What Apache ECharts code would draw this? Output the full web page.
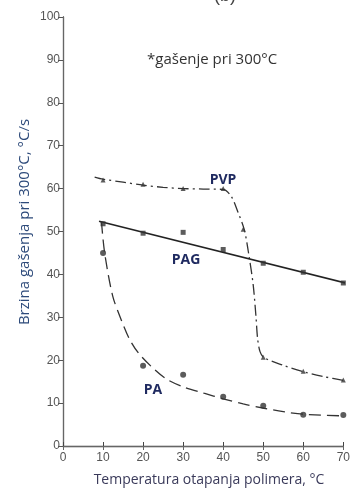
<!DOCTYPE html>
<html>
<head>
<meta charset="utf-8">
<script src="https://cdn.jsdelivr.net/npm/echarts@6/dist/echarts.min.js"></script>
<style>
  html, body { margin: 0; padding: 0; background: #fff; }
  #chart { width: 353px; height: 489px; }
</style>
</head>
<body>
<div id="chart"></div>
<script>
// values
const pvpCurve = [[7.9, 62.7], [10, 62.2], [15, 61.5], [20, 60.8], [25, 60.3], [30, 60], [35, 59.9], [40, 59.8],
  [42, 58.2], [43.7, 54.5], [45.3, 50.3], [46.5, 44], [47.5, 37.5], [48.2, 30], [48.6, 25], [49.2, 22], [50.2, 20.6],
  [55, 18.8], [60, 17.3], [65, 16.2], [70.5, 15.2]]
const pvpPoints = [[10, 62], [20, 61], [30, 60], [40, 60], [45, 50.5], [50, 20.7], [60, 17.4], [70, 15.4]]

const pagLine = [[9, 52.4], [70.5, 38]]
const pagPoints = [[10, 51.8], [20, 49.6], [30, 49.8], [40, 45.8], [50, 42.6], [60, 40.5], [70, 38]]

const paCurve = [[9.6, 52.3], [10.4, 45], [12.4, 35], [14.5, 29.5], [16.5, 25.1], [18.9, 21.6], [23, 17.7],
  [26.2, 15.4], [30.3, 13.7], [35.2, 12.3], [40, 11], [45, 9.8], [50.2, 8.8], [55, 8], [60.1, 7.4], [70.5, 7]]
const paPoints = [[10, 45], [20, 18.7], [30, 16.6], [40, 11.5], [50, 9.4], [60, 7.3], [70, 7.2]]

const ink = '#333'
const chart = echarts.init(document.getElementById('chart'))

const tickFont = { color: '#555', fontSize: 12, fontFamily: 'Liberation Sans' }
const axisLine = { show: true, lineStyle: { color: '#444', width: 1.3 } }

chart.setOption({
  animation: false,
  backgroundColor: '#fff',
  grid: { left: 63, right: 3, top: 17, bottom: 43 },
  xAxis: [
    {
      type: 'value', min: 0, max: 70, interval: 10, position: 'bottom',
      axisLine, axisTick: { inside: true, length: 4, lineStyle: { color: '#444' } },
      axisLabel: { ...tickFont, margin: 6 },
      splitLine: { show: false },
    },
    {
      type: 'value', min: 0, max: 70, interval: 10, position: 'top',
      axisLine: { show: true, lineStyle: { color: '#666', width: 1 } },
      axisTick: { inside: true, length: 4, lineStyle: { color: '#666' } },
      axisLabel: { show: false }, splitLine: { show: false },
    },
  ],
  yAxis: [
    {
      type: 'value', min: 0, max: 100, interval: 10, position: 'left',
      axisLine, axisTick: { inside: false, length: 4, lineStyle: { color: '#444' } },
      axisLabel: { ...tickFont, margin: 3 },
      splitLine: { show: false },
    },
    {
      type: 'value', min: 0, max: 100, interval: 10, position: 'right',
      axisLine: { show: true, lineStyle: { color: '#666', width: 1 } },
      axisTick: { inside: true, length: 5, lineStyle: { color: '#555' } },
      axisLabel: { show: false }, splitLine: { show: false },
    },
  ],
  series: [
    {
      name: 'PVP', type: 'line', data: pvpCurve, smooth: 0.3, showSymbol: false, symbol: 'none',
      lineStyle: { color: ink, width: 1.3, type: [11, 4, 2, 4] }, z: 2,
    },
    {
      type: 'scatter', data: pvpPoints, symbol: 'triangle', symbolSize: 5,
      itemStyle: { color: ink }, z: 3,
    },
    {
      name: 'PAG', type: 'line', data: pagLine, showSymbol: false, symbol: 'none',
      lineStyle: { color: '#222', width: 1.6 }, z: 2,
    },
    {
      type: 'scatter', data: pagPoints, symbol: 'rect', symbolSize: 5,
      itemStyle: { color: ink }, z: 3,
    },
    {
      name: 'PA', type: 'line', data: paCurve, smooth: 0.3, showSymbol: false, symbol: 'none',
      lineStyle: { color: ink, width: 1.3, type: [12, 6] }, z: 2,
    },
    {
      type: 'scatter', data: paPoints, symbol: 'circle', symbolSize: 6,
      itemStyle: { color: ink }, z: 3,
    },
  ],
  graphic: [
    {
      type: 'text', left: 214, top: -13,
      style: { text: '(b)', font: '18px "Liberation Sans"', fill: '#444' },
    },
    {
      type: 'text', x: 25, y: 222, rotation: Math.PI / 2,
      style: {
        text: 'Brzina gašenja pri 300°C, °C/s', font: '15px "Open Sans"', fill: '#2d4a7a',
        align: 'center', verticalAlign: 'middle',
      },
    },
    {
      type: 'text', x: 209, y: 480,
      style: {
        text: 'Temperatura otapanja polimera, °C', font: '14px "Open Sans"', fill: '#3a3a5a',
        align: 'center', verticalAlign: 'middle',
      },
    },
    {
      type: 'text', x: 147, y: 60,
      style: { text: '*gašenje pri 300°C', font: '15px "Open Sans"', fill: '#333', verticalAlign: 'middle' },
    },
    {
      type: 'text', x: 223, y: 180,
      style: { text: 'PVP', font: 'bold 14px "Open Sans"', fill: '#1f2a60', align: 'center', verticalAlign: 'middle' },
    },
    {
      type: 'text', x: 186, y: 260,
      style: { text: 'PAG', font: 'bold 14px "Open Sans"', fill: '#1f2a60', align: 'center', verticalAlign: 'middle' },
    },
    {
      type: 'text', x: 153, y: 390,
      style: { text: 'PA', font: 'bold 14px "Open Sans"', fill: '#1f2a60', align: 'center', verticalAlign: 'middle' },
    },
  ],
})
</script>
</body>
</html>
